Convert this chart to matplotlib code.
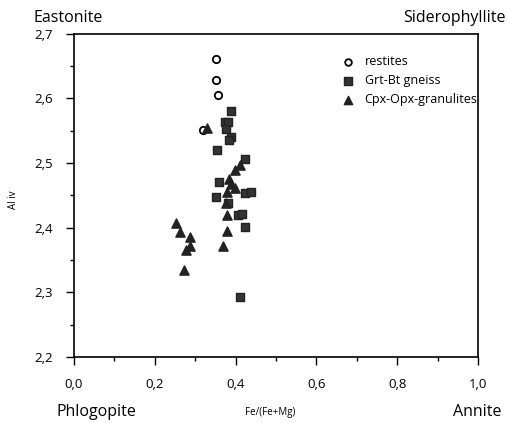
import matplotlib
matplotlib.use("Agg")
import matplotlib.pyplot as plt
from matplotlib.ticker import MultipleLocator, FuncFormatter

plt.rcParams['font.family'] = ['Open Sans', 'DejaVu Sans']

# Data
restites_x = [0.352, 0.352, 0.356, 0.319]
restites_y = [2.661, 2.628, 2.606, 2.551]

gneiss_x = [0.388, 0.373, 0.381, 0.377, 0.388, 0.383, 0.354, 0.422, 0.358, 0.352,
            0.381, 0.422, 0.437, 0.405, 0.415, 0.424, 0.410]
gneiss_y = [2.581, 2.563, 2.563, 2.553, 2.540, 2.536, 2.521, 2.507, 2.471, 2.447,
            2.439, 2.454, 2.456, 2.420, 2.421, 2.401, 2.293]

gran_x = [0.330, 0.410, 0.398, 0.383, 0.389, 0.399, 0.379, 0.375, 0.379, 0.379, 0.369,
          0.253, 0.262, 0.286, 0.286, 0.278, 0.272]
gran_y = [2.555, 2.497, 2.490, 2.475, 2.468, 2.462, 2.455, 2.438, 2.420, 2.395, 2.372,
          2.408, 2.393, 2.386, 2.371, 2.366, 2.335]

fig = plt.figure(figsize=(5.07, 4.23), dpi=100)
ax = fig.add_axes([0.146, 0.156, 0.797, 0.764])

ax.scatter(restites_x, restites_y, s=28, facecolors='white', edgecolors='black',
           linewidths=1.3, marker='o', label='restites', zorder=3)
ax.scatter(gneiss_x, gneiss_y, s=38, c='#333333', edgecolors='#222222',
           marker='s', label='Grt-Bt gneiss', zorder=2)
ax.scatter(gran_x, gran_y, s=44, c='#222222', marker='^', label='Cpx-Opx-granulites', zorder=4)

ax.set_xlim(0, 1.0)
ax.set_ylim(2.2, 2.7)
ax.xaxis.set_major_locator(MultipleLocator(0.2))
ax.xaxis.set_minor_locator(MultipleLocator(0.1))
ax.yaxis.set_major_locator(MultipleLocator(0.1))
ax.yaxis.set_minor_locator(MultipleLocator(0.05))
fmt = FuncFormatter(lambda v, p: f"{v:.1f}".replace('.', ','))
ax.xaxis.set_major_formatter(fmt)
ax.yaxis.set_major_formatter(fmt)
ax.tick_params(which='major', direction='out', length=6, width=1, labelsize=9.5, pad=9)
ax.tick_params(which='minor', direction='out', length=3, width=1)
ax.tick_params(top=False, right=False)
for sp in ax.spines.values():
    sp.set_linewidth(1.2)

fig.text(0.533, 0.026, 'Fe/(Fe+Mg)', fontsize=7, ha='center', va='center')
fig.text(0.026, 0.527, 'Al iv', rotation=90, fontsize=7, ha='center', va='center')

fig.text(0.134, 0.957, 'Eastonite', fontsize=11.5, ha='center', va='center')
fig.text(0.897, 0.957, 'Siderophyllite', fontsize=11.5, ha='center', va='center')
fig.text(0.191, 0.026, 'Phlogopite', fontsize=11.5, ha='center', va='center')
fig.text(0.941, 0.026, 'Annite', fontsize=11.5, ha='center', va='center')

ax.legend(loc='upper left', bbox_to_anchor=(0.62, 0.97), frameon=False, fontsize=9,
          handletextpad=0.3, labelspacing=0.5, markerscale=0.9)

fig.savefig('out.png', dpi=100)
